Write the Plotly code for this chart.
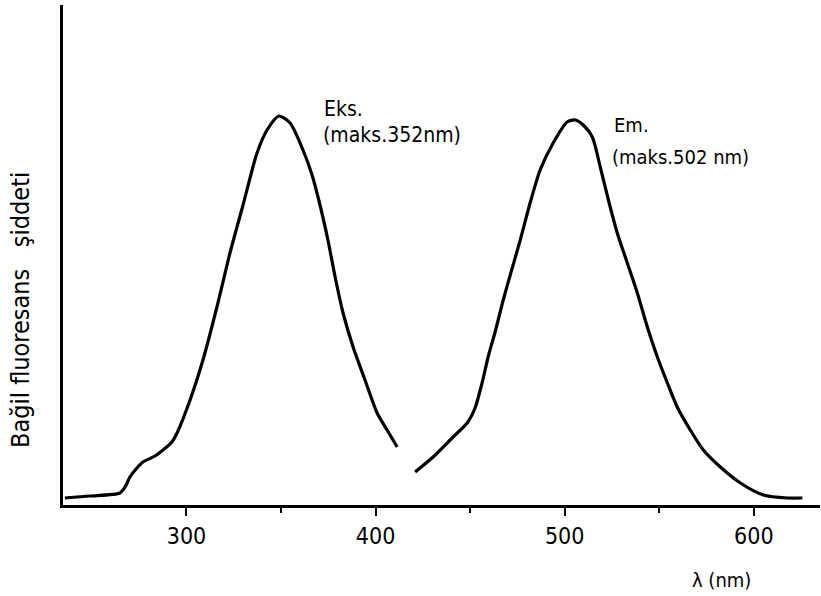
import plotly.graph_objects as go

# Excitation spectrum (nm, relative intensity)
eks_nm = [235.7, 248.9, 264.8, 267.5, 270.1, 273.8, 277.0, 283.3, 287.6, 292.3, 295.0, 301.9,
          308.7, 316.1, 323.0, 329.9, 337.3, 342.6, 348.9, 354.8, 361.6, 366.4, 370.6, 374.9,
          378.6, 382.8, 388.1, 394.4, 400.8, 406.1, 411.4]
eks_val = [1.4, 1.8, 2.4, 3.6, 5.6, 7.4, 8.6, 9.8, 11.0, 12.6, 14.4, 21.0,
           29.0, 39.6, 50.4, 60.0, 70.4, 75.0, 77.8, 76.4, 71.0, 66.0, 60.0, 52.8,
           45.6, 38.4, 31.6, 25.0, 18.4, 15.0, 11.6]

# Emission spectrum
em_nm = [420.9, 430.4, 441.0, 448.4, 452.6, 456.3, 459.5, 463.2, 467.5, 471.2, 476.5, 481.7,
         487.0, 493.9, 501.3, 505.6, 509.8, 514.6, 518.8, 523.1, 527.8, 533.1, 538.4, 543.7,
         549.0, 554.3, 559.5, 566.4, 573.3, 582.3, 592.9, 605.1, 617.7, 625.7]
em_val = [6.6, 9.6, 13.6, 16.4, 19.4, 24.4, 29.6, 34.6, 41.0, 46.0, 53.0, 60.4,
          67.0, 72.4, 76.6, 77.0, 76.0, 73.6, 67.6, 61.0, 54.4, 48.4, 42.4, 35.6,
          29.6, 24.4, 19.6, 15.0, 11.0, 7.6, 4.4, 2.0, 1.4, 1.4]

major_ticks = [300, 400, 500, 600]
major_labels = ["300", "400", "500", "600"]
minor_ticks = [350, 450, 550]

x_range = [234.7, 635.0]
y_range = [0, 100]

FONT = "DejaVu Sans Condensed, Liberation Sans Narrow, DejaVu Sans, sans-serif"
W, H = 821, 596
ML, MR, MT, MB = 63, 1, 5, 91

fig = go.Figure()
for xs, ys in ((eks_nm, eks_val), (em_nm, em_val)):
    fig.add_trace(go.Scatter(x=xs, y=ys, mode="lines",
                             line=dict(color="black", width=3.2, shape="spline", smoothing=0.7),
                             showlegend=False, hoverinfo="skip"))
# invisible trace for secondary axis (intermediate ticks)
fig.add_trace(go.Scatter(x=[x_range[0]], y=[0], xaxis="x2", mode="markers",
                         marker=dict(opacity=0), showlegend=False, hoverinfo="skip"))


def px_to_paper(px, py):
    return (px - ML) / (W - ML - MR), (H - MB - py) / (H - MT - MB)


yx, yy = px_to_paper(20, 310)
lx, ly = px_to_paper(721, 580)

fig.update_layout(
    width=W, height=H,
    margin=dict(l=ML, r=MR, t=MT, b=MB),
    paper_bgcolor="white", plot_bgcolor="white",
    font=dict(family=FONT, color="black", size=20),
    xaxis=dict(range=x_range, showgrid=False, zeroline=False,
               showline=True, linecolor="black", linewidth=3,
               tickmode="array", tickvals=major_ticks, ticktext=major_labels,
               ticks="outside", ticklen=8, tickwidth=2, tickcolor="black",
               tickfont=dict(size=23, family=FONT)),
    xaxis2=dict(range=x_range, overlaying="x", side="bottom", showgrid=False,
                zeroline=False, showline=False, tickmode="array", tickvals=minor_ticks,
                ticks="outside", ticklen=7, tickwidth=2, tickcolor="black",
                showticklabels=False, anchor="y"),
    yaxis=dict(range=y_range, showgrid=False, zeroline=False,
               showline=True, linecolor="black", linewidth=3,
               showticklabels=False, ticks=""),
    annotations=[
        dict(x=371.8, y=79.2, xref="x", yref="y", text="Eks.", showarrow=False,
             xanchor="left", yanchor="middle", font=dict(size=21)),
        dict(x=371.3, y=74.0, xref="x", yref="y", text="(maks.352nm)", showarrow=False,
             xanchor="left", yanchor="middle", font=dict(size=21)),
        dict(x=525.1, y=76.0, xref="x", yref="y", text="Em.", showarrow=False,
             xanchor="left", yanchor="middle", font=dict(size=20)),
        dict(x=524.1, y=69.6, xref="x", yref="y", text="(maks.502 nm)", showarrow=False,
             xanchor="left", yanchor="middle", font=dict(size=20)),
        dict(x=yx, y=yy, xref="paper", yref="paper", text="Bağil fluoresans   şiddeti",
             showarrow=False, textangle=-90, xanchor="center", yanchor="middle",
             font=dict(size=25)),
        dict(x=lx, y=ly, xref="paper", yref="paper", text="λ (nm)", showarrow=False,
             xanchor="center", yanchor="middle", font=dict(size=20)),
    ],
)

fig.write_html("out.html", config={"displayModeBar": False},
               post_script="document.body.style.margin='0';")
